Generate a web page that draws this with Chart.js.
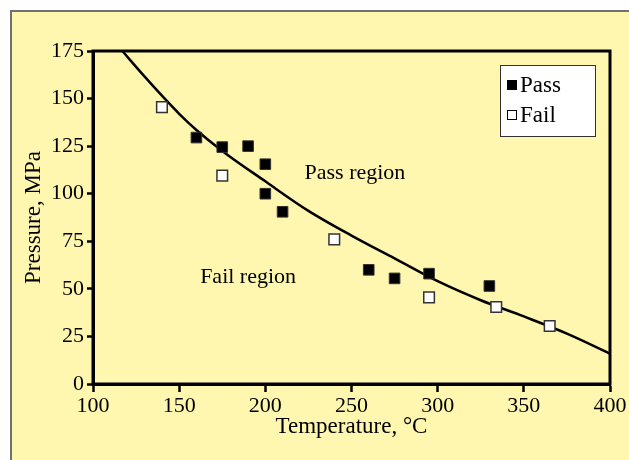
<html lang=en>
	<head>
		<title>Pressure vs temperature</title>
		<meta http-equiv="content-type" content="text/html; charset=utf-8" />
		<script type="text/javascript" src="https://cdn.jsdelivr.net/npm/chart.js@4.4.1/dist/chart.umd.min.js"></script>
		<style>
			body { margin: 0; background: #fff; overflow: hidden; width: 629px; height: 460px; position: relative; }
			#frame { position: absolute; left: 10px; top: 10px; width: 700px; height: 520px; background: #fff6b0; border-left: 2px solid #707070; border-top: 2px solid #707070; }
			#myChart { position: absolute; left: 0; top: 0; }
		</style>
	</head>
	<body>
		<div id="frame"></div>
		<canvas id="myChart" width="629" height="460"></canvas>
		<script>
		// test results
		var passTemp = [160, 175, 190, 200, 200, 210, 260, 275, 295, 330];
		var passPress = [129.5, 124.5, 125, 115.5, 100, 90.5, 60, 55.5, 58, 51.5];
		var failTemp = [140, 175, 240, 295, 334, 365];
		var failPress = [145.5, 109.5, 76, 45.5, 40.5, 30.5];

		// boundary curve
		var curveTemp = [117, 130, 140, 150, 160, 175, 200, 225, 250, 275, 300, 325, 350, 375, 400];
		var curvePress = [175, 161.5, 151.5, 142, 133.5, 122.5, 106.5, 91, 78, 66, 54, 44, 35.5, 26.5, 16];

		var xTicks = [100, 150, 200, 250, 300, 350, 400];
		var yTicks = [0, 25, 50, 75, 100, 125, 150, 175];

		var regionLabels = [
			{text: "Pass region", x: 252, y: 111},
			{text: "Fail region", x: 190, y: 56}
		];

		var serif = "'Liberation Serif', 'DejaVu Serif', serif";

		var toPoints = function (xs, ys) {
			var pts = [];
			for (var i = 0; i < xs.length; i++) {
				pts.push({x: xs[i], y: ys[i]});
			}
			return pts;
		};

		// box round the plot, region names and the legend
		var extras = {
			id: 'extras',
			afterDraw: function (chart) {
				var ctx = chart.ctx;
				var a = chart.chartArea;
				ctx.save();
				ctx.strokeStyle = '#000';
				ctx.lineWidth = 3;
				ctx.strokeRect(a.left, a.top, a.right - a.left, a.bottom - a.top);

				ctx.fillStyle = '#000';
				ctx.font = "22px " + serif;
				ctx.textAlign = 'center';
				ctx.textBaseline = 'middle';
				for (var i = 0; i < regionLabels.length; i++) {
					var r = regionLabels[i];
					ctx.fillText(r.text, chart.scales.x.getPixelForValue(r.x), chart.scales.y.getPixelForValue(r.y));
				}

				// legend
				var lx = a.right - 110, ly = a.top + 14, lw = 95, lh = 71;
				ctx.fillStyle = '#fff';
				ctx.fillRect(lx, ly, lw, lh);
				ctx.strokeStyle = '#333';
				ctx.lineWidth = 1;
				ctx.strokeRect(lx + 0.5, ly + 0.5, lw, lh);
				ctx.textAlign = 'left';
				ctx.font = "23px " + serif;
				for (var k = 0; k < 2; k++) {
					var ds = chart.data.datasets[k];
					var cy = ly + 20 + k * 30;
					ctx.fillStyle = ds.backgroundColor;
					ctx.fillRect(lx + 7, cy - 5, 10, 10);
					ctx.strokeStyle = '#000';
					ctx.strokeRect(lx + 7.5, cy - 4.5, 9, 9);
					ctx.fillStyle = '#000';
					ctx.fillText(ds.label, lx + 20, cy + 1);
				}
				ctx.restore();
			}
		};

		var ctx = document.getElementById("myChart");
		var myChart = new Chart(ctx, {
			type: 'scatter',
			data: {
				datasets: [{
					label: 'Pass',
					data: toPoints(passTemp, passPress),
					pointStyle: 'rect',
					pointRadius: 7.5,
					pointHoverRadius: 7.5,
					backgroundColor: '#000',
					borderColor: '#333',
					borderWidth: 1
				}, {
					label: 'Fail',
					data: toPoints(failTemp, failPress),
					pointStyle: 'rect',
					pointRadius: 7.5,
					pointHoverRadius: 7.5,
					backgroundColor: '#fff',
					borderColor: '#333',
					borderWidth: 1.5
				}, {
					label: 'Boundary',
					data: toPoints(curveTemp, curvePress),
					showLine: true,
					cubicInterpolationMode: 'monotone',
					borderColor: '#000',
					borderWidth: 2.5,
					pointRadius: 0,
					pointHoverRadius: 0,
					fill: false
				}]
			},
			options: {
				responsive: false,
				animation: false,
				layout: { padding: { left: 0, top: 51, right: 19, bottom: 0 } },
				plugins: {
					legend: { display: false },
					tooltip: { enabled: false }
				},
				scales: {
					x: {
						type: 'linear',
						min: 100,
						max: 400,
						afterBuildTicks: function (scale) {
							scale.ticks = xTicks.map(function (v) { return {value: v}; });
						},
						afterFit: function (scale) { scale.height = 76; },
						border: { color: '#000', width: 3 },
						grid: { drawOnChartArea: false, drawTicks: true, tickLength: 8, tickColor: '#000', tickWidth: 2.5 },
						ticks: { color: '#000', padding: 1, font: { family: serif, size: 22 } },
						title: { display: true, text: 'Temperature, °C', color: '#000', padding: { top: 0, bottom: 19 }, font: { family: serif, size: 23 } }
					},
					y: {
						type: 'linear',
						min: 0,
						max: 175,
						afterBuildTicks: function (scale) {
							scale.ticks = yTicks.map(function (v) { return {value: v}; });
						},
						afterFit: function (scale) { scale.width = 93; },
						border: { color: '#000', width: 3 },
						grid: { drawOnChartArea: false, drawTicks: true, tickLength: 6, tickColor: '#000', tickWidth: 2.5 },
						ticks: { color: '#000', padding: 3, font: { family: serif, size: 22 } },
						title: { display: true, text: 'Pressure, MPa', color: '#000', padding: { top: 20, bottom: 0 }, font: { family: serif, size: 23 } }
					}
				}
			},
			plugins: [extras]
		});
		</script>
	</body>
</html>
